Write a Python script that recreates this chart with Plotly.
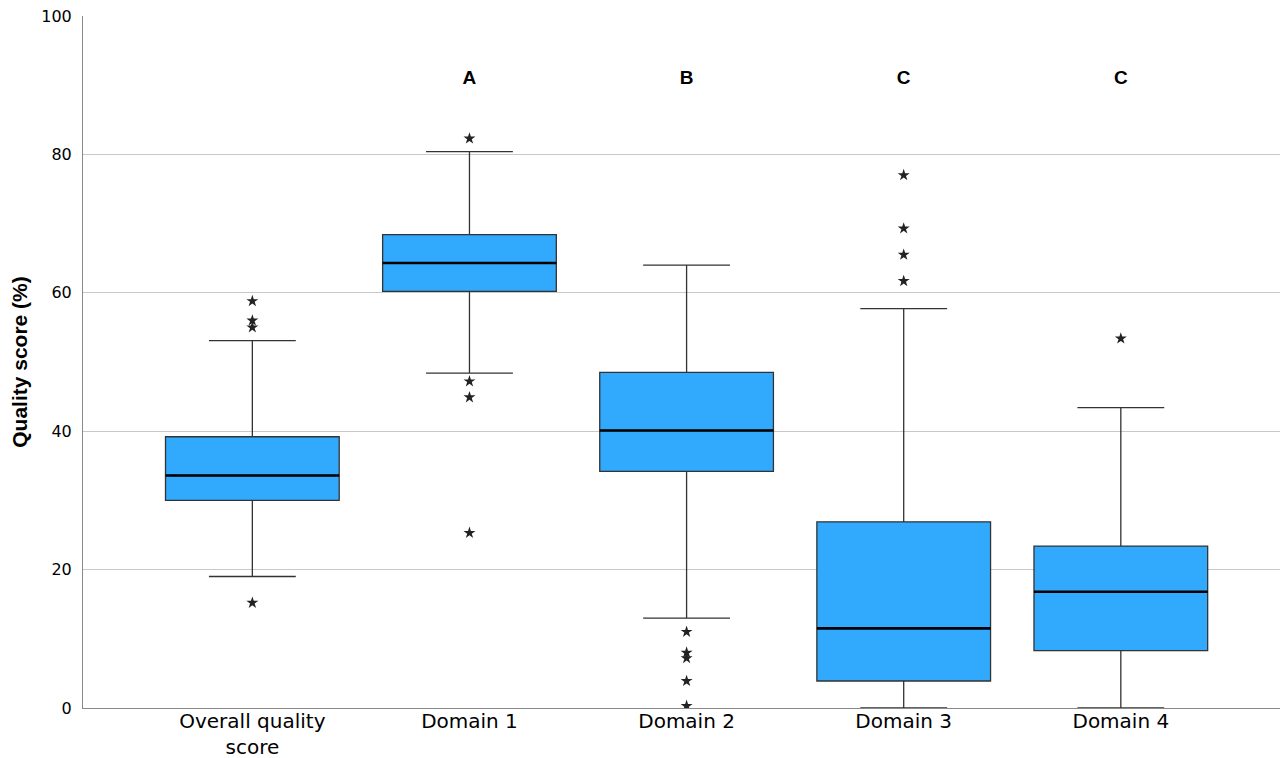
import plotly.graph_objects as go

categories = ["Overall quality<br>score", "Domain 1", "Domain 2", "Domain 3", "Domain 4"]
q1 = [30.0, 60.2, 34.2, 3.9, 8.3]
median = [33.6, 64.3, 40.1, 11.5, 16.8]
q3 = [39.2, 68.4, 48.5, 26.9, 23.4]
lower_whisker = [19.0, 48.4, 13.0, 0.0, 0.0]
upper_whisker = [53.1, 80.4, 64.0, 57.7, 43.4]
outliers = [
    [58.8, 56.0, 55.0, 15.2],
    [82.3, 47.2, 44.9, 25.3],
    [11.0, 8.0, 7.2, 3.9, 0.3],
    [77.0, 69.3, 65.5, 61.7],
    [53.4],
]
group_letters = ["", "A", "B", "C", "C"]
letter_y = 90.9
y_ticks = [0, 20, 40, 60, 80, 100]

box_fill = "#31AAFE"
positions = list(range(len(categories)))

fig = go.Figure()
for i in positions:
    fig.add_trace(go.Box(
        x=[i], q1=[q1[i]], median=[median[i]], q3=[q3[i]],
        lowerfence=[lower_whisker[i]], upperfence=[upper_whisker[i]],
        boxpoints=False, width=0.8, whiskerwidth=0.5,
        fillcolor=box_fill, line=dict(color="#333333", width=1.3),
        showlegend=False, hoverinfo="skip",
    ))
    # thicker median line
    fig.add_trace(go.Scatter(
        x=[i - 0.4, i + 0.4], y=[median[i], median[i]], mode="lines",
        line=dict(color="black", width=2.6), showlegend=False, hoverinfo="skip",
    ))
    fig.add_trace(go.Scatter(
        x=[i] * len(outliers[i]), y=outliers[i], mode="markers",
        marker=dict(symbol="star", size=9, color="#222222", line=dict(width=0)),
        showlegend=False, hoverinfo="skip",
    ))

fig.add_trace(go.Scatter(
    x=positions, y=[letter_y] * len(positions), mode="text", text=group_letters,
    textfont=dict(family="Liberation Sans, Arial, sans-serif", size=19, color="black"),
    texttemplate="<b>%{text}</b>", showlegend=False, hoverinfo="skip",
))

fig.update_layout(
    width=1280, height=750,
    margin=dict(l=75, r=0, t=8, b=50),
    paper_bgcolor="white", plot_bgcolor="white",
    xaxis=dict(
        range=[-0.78, 4.77], tickmode="array", tickvals=positions, ticktext=categories,
        showgrid=False, zeroline=False, showline=True, linecolor="#888888", linewidth=1,
        ticks="", automargin=False, ticklabelstandoff=-5, ticklabeloverflow="allow",
        tickfont=dict(family="DejaVu Sans, sans-serif", size=20, color="black"),
    ),
    yaxis=dict(
        range=[0, 100], tickmode="array", tickvals=y_ticks,
        showgrid=True, gridcolor="#c8c8c8", gridwidth=1, zeroline=False,
        showline=True, linecolor="#888888", linewidth=1,
        ticks="outside", ticklen=7, tickcolor="rgba(0,0,0,0)", automargin=False,
        ticklabeloverflow="allow",
        tickfont=dict(family="DejaVu Sans, sans-serif", size=16, color="black"),
        title=dict(text="<b>Quality score (%)</b>", standoff=8,
                   font=dict(family="Liberation Sans, Arial, sans-serif", size=21, color="black")),
    ),
)

fig.write_html("out.html")
